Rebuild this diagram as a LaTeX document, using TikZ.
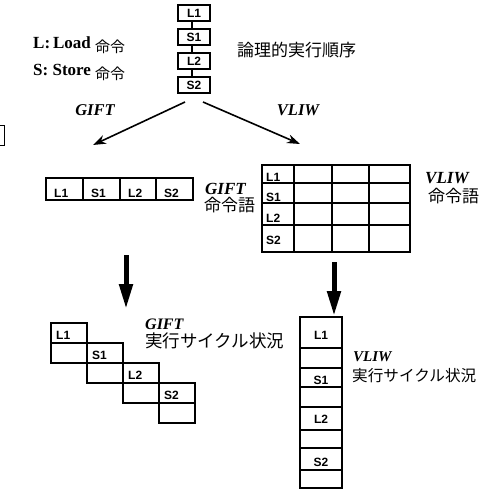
\documentclass[tikz,border=0pt]{standalone}
\usepackage{fontspec}
\setmainfont{Liberation Serif}
\newfontfamily\cjk{Noto Sans CJK JP}
\newfontfamily\hv{Liberation Sans}
\usetikzlibrary{arrows.meta}
\tikzset{
  box/.style={draw, line width=1.5pt, inner sep=0pt},
  lbl/.style={font=\hv\bfseries\fontsize{12}{12}\selectfont, inner sep=0pt},
  ital/.style={font=\bfseries\itshape\fontsize{16.5}{16.5}\selectfont, inner sep=0pt},
  jp/.style={font=\cjk\fontsize{17}{17}\selectfont, inner sep=0pt},
  legend/.style={font=\bfseries\fontsize{17}{17}\selectfont, inner sep=0pt, anchor=base west},
  thinarrow/.style={line width=1.6pt, -{Stealth[length=13pt,width=9pt]}},
  thickarrow/.style={line width=5pt, -{Triangle[length=25pt,width=13pt]}},
  link/.style={line width=2.5pt}
}
\newcommand\mkcell[5]{\node[box, minimum width={(#4-#2)*1pt}, minimum height={(#5-#3)*1pt}] (#1) at ({(#2+#4)/2},{(#3+#5)/2}) {};}
\begin{document}
\begin{tikzpicture}[x=1pt,y=-1pt]
\useasboundingbox (0,0) rectangle (500,490);

% scan fragment at left edge
\draw[line width=1pt] (0,125) -- (4,125) -- (4,145) -- (0,145);

% logical execution order chain
\foreach \n/\t/\y in {t1/L1/13, t2/S1/37, t3/L2/61, t4/S2/85} {
  \node[box, lbl, line width=2pt, minimum width=32pt, minimum height=16pt] (\n) at (194,\y) {\t};
}
\foreach \a/\b in {t1/t2, t2/t3, t3/t4} {
  \draw[link] ([xshift=-2pt]\a.south) -- ([xshift=-2pt]\b.north);
}
\node[jp, anchor=west] (order) at (237,50) {論理的実行順序};

% legend
\node[legend] (leg1) at (33,48) {L:\,Load \raisebox{-4pt}{\cjk\mdseries\fontsize{15}{15}\selectfont 命令}};
\node[legend] (leg2) at (33,75) {S:~Store \raisebox{-4pt}{\cjk\mdseries\fontsize{15}{15}\selectfont 命令}};

% branch arrows
\coordinate (gs) at (185,102);
\coordinate (ge) at (93,145);
\coordinate (vs) at (203,102);
\coordinate (ve) at (300,144);
\draw[thinarrow] (gs) -- (ge);
\draw[thinarrow] (vs) -- (ve);
\node[ital] (gift1) at (95,110) {GIFT};
\node[ital] (vliw1) at (298,110) {VLIW};

% GIFT instruction word
\foreach \n/\t/\a/\b in {g1/L1/46/83, g2/S1/83/120, g3/L2/120/156, g4/S2/156/193} {
  \mkcell{\n}{\a}{178}{\b}{200}
  \node[lbl, anchor=base west] (\n-t) at (\a+8,197) {\t};
}
\node[ital, anchor=west, font=\bfseries\itshape\fontsize{17}{17}\selectfont] (gift2) at (205,189) {GIFT};
\node[jp, anchor=west] (giftw) at (204,205) {命令語};

% VLIW instruction word
\foreach \r/\ya/\yb/\t/\bl in {1/165/183/L1/181, 2/183/203/S1/201, 3/203/225/L2/222, 4/225/252/S2/244} {
  \foreach \c/\xa/\xb in {1/262/294, 2/294/332, 3/332/369, 4/369/410} {
    \mkcell{v\r\c}{\xa}{\ya}{\xb}{\yb}
  }
  \node[lbl, anchor=base west] (v\r-t) at (266,\bl) {\t};
}
\node[ital, anchor=west, font=\bfseries\itshape\fontsize{17}{17}\selectfont] (vliw2) at (425,178) {VLIW};
\node[jp, anchor=west] (vliww) at (428,196) {命令語};

% down arrows
\coordinate (da1) at (126,255);
\coordinate (da2) at (126,309);
\coordinate (db1) at (334,262);
\coordinate (db2) at (334,316);
\draw[thickarrow] (da1) -- (da2);
\draw[thickarrow] (db1) -- (db2);

% GIFT execution cycles (staircase)
\foreach \i/\t in {0/L1, 1/S1, 2/L2, 3/S2} {
  \pgfmathsetmacro\xa{51+36*\i}
  \pgfmathsetmacro\xb{\xa+36}
  \pgfmathsetmacro\ya{323+20*\i}
  \pgfmathsetmacro\ym{\ya+20}
  \pgfmathsetmacro\yb{\ya+40}
  \mkcell{s\i a}{\xa}{\ya}{\xb}{\ym}
  \mkcell{s\i b}{\xa}{\ym}{\xb}{\yb}
  \node[lbl, anchor=base west] (s\i t) at (\xa+5,\ya+16) {\t};
}
\node[ital, anchor=west, font=\bfseries\itshape\fontsize{16}{16}\selectfont] (gift3) at (145,324) {GIFT};
\node[jp, anchor=west, font=\cjk\fontsize{17.5}{17.5}\selectfont] (giftc) at (145,341) {実行サイクル状況};

% VLIW execution cycles (column)
\foreach \k/\ya/\yb in {1/317/348, 2/348/368, 3/368/387, 4/387/407, 5/407/430, 6/430/448, 7/448/470, 8/470/488} {
  \mkcell{w\k}{300}{\ya}{342}{\yb}
}
\node[lbl] (w1t) at (321,335) {L1};
\node[lbl] (w3t) at (321,380) {S1};
\node[lbl] (w5t) at (321,419) {L2};
\node[lbl] (w7t) at (321,462) {S2};
\node[ital, anchor=west, font=\bfseries\itshape\fontsize{15}{15}\selectfont] (vliw3) at (353,357) {VLIW};
\node[jp, anchor=west, font=\cjk\fontsize{15.6}{15.6}\selectfont] (vliwc) at (352,376) {実行サイクル状況};
\end{tikzpicture}
\end{document}
